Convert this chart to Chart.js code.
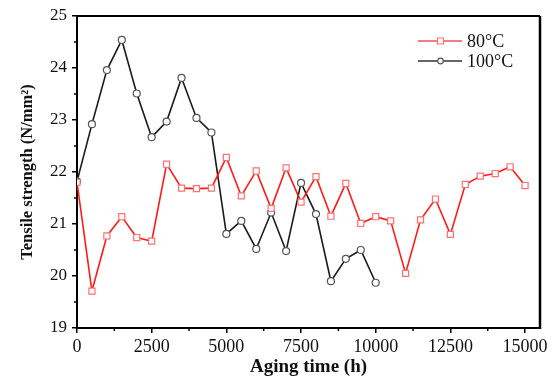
<!DOCTYPE html>
<html lang="en">
<head>
<meta charset="UTF-8">
<title>Tensile strength vs aging time</title>
<script src="https://cdn.jsdelivr.net/npm/chart.js"></script>
<style>
  html, body { margin: 0; padding: 0; background: #fff; overflow: hidden; }
  .wrap { position: relative; width: 560px; height: 383px; }
</style>
</head>
<body>
<div class="wrap"><canvas id="c" width="560" height="383"></canvas></div>
<script>
// aging time (h)
const hours80 = [0,500,1000,1500,2000,2500,3000,3500,4000,4500,5000,5500,6000,6500,7000,7500,8000,8500,9000,9500,10000,10500,11000,11500,12000,12500,13000,13500,14000,14500,15000];
const strength80 = [21.8,19.71,20.77,21.14,20.74,20.67,22.15,21.69,21.68,21.69,22.28,21.54,22.02,21.3,22.08,21.42,21.91,21.15,21.78,21.01,21.14,21.06,20.05,21.08,21.48,20.8,21.76,21.92,21.97,22.1,21.74];
const hours100 = [0,500,1000,1500,2000,2500,3000,3500,4000,4500,5000,5500,6000,6500,7000,7500,8000,8500,9000,9500,10000];
const strength100 = [21.82,22.92,23.96,24.54,23.51,22.67,22.97,23.81,23.04,22.76,20.81,21.06,20.52,21.22,20.48,21.79,21.19,19.9,20.33,20.5,19.87];

const xTicks = [0,2500,5000,7500,10000,12500,15000];
const xMinor = [1250,3750,6250,8750,11250,13750];
const yTicks = [19,20,21,22,23,24,25];
const yMinor = [19.5,20.5,21.5,22.5,23.5,24.5];

const seriesNames = ['80°C', '100°C'];
const xTitle = 'Aging time (h)';
const yTitle = 'Tensile strength (N/mm²)';

const FONT = "'Liberation Serif', 'Times New Roman', serif";
const RED = '#ff1a1a';
const RED_PT = '#ff7070';
const BLK = '#1a1a1a';
const BLK_PT = '#555555';

const pts = (xs, ys) => xs.map((x, i) => ({ x: x, y: ys[i] }));

// frame, minor ticks, titles and the line+marker legend
const decor = {
  id: 'decor',
  afterDraw(chart) {
    const ctx = chart.ctx;
    const a = chart.chartArea;
    const xs = chart.scales.x, ys = chart.scales.y;
    ctx.save();
    ctx.strokeStyle = '#000';
    // top and right frame lines
    ctx.lineWidth = 2;
    ctx.beginPath();
    ctx.moveTo(a.left, a.top); ctx.lineTo(a.right, a.top);
    ctx.stroke();
    ctx.lineWidth = 2.5;
    ctx.beginPath();
    ctx.moveTo(a.right, a.top); ctx.lineTo(a.right, a.bottom + 1);
    ctx.stroke();
    // minor ticks
    ctx.lineWidth = 1.5;
    ctx.beginPath();
    xMinor.forEach(v => {
      const p = xs.getPixelForValue(v);
      ctx.moveTo(p, a.bottom); ctx.lineTo(p, a.bottom + 3);
    });
    yMinor.forEach(v => {
      const p = ys.getPixelForValue(v);
      ctx.moveTo(a.left, p); ctx.lineTo(a.left - 3, p);
    });
    ctx.stroke();

    // axis titles
    ctx.fillStyle = '#111';
    ctx.textAlign = 'center';
    ctx.textBaseline = 'middle';
    ctx.font = 'bold 19px ' + FONT;
    ctx.fillText(xTitle, (a.left + a.right) / 2, 367);
    ctx.save();
    ctx.translate(28, (a.top + a.bottom) / 2);
    ctx.rotate(-Math.PI / 2);
    ctx.font = 'bold 16.5px ' + FONT;
    ctx.fillText(yTitle, 0, 0);
    ctx.restore();

    // legend
    const rows = [
      { name: seriesNames[0], line: '#ff5050', pt: RED_PT, style: 'rect', y: 41 },
      { name: seriesNames[1], line: '#333', pt: BLK_PT, style: 'circle', y: 61 }
    ];
    rows.forEach(r => {
      ctx.strokeStyle = r.line;
      ctx.lineWidth = 1.5;
      ctx.beginPath();
      ctx.moveTo(418, r.y); ctx.lineTo(462, r.y);
      ctx.stroke();
      ctx.fillStyle = '#fff';
      ctx.strokeStyle = r.pt;
      ctx.lineWidth = 1.2;
      ctx.beginPath();
      if (r.style === 'rect') ctx.rect(437.5, r.y - 3, 6, 6);
      else ctx.arc(440.5, r.y, 2.8, 0, Math.PI * 2);
      ctx.fill(); ctx.stroke();
      ctx.fillStyle = '#111';
      ctx.font = '18px ' + FONT;
      ctx.textAlign = 'left';
      ctx.fillText(r.name, 467, r.y + 1);
    });
    ctx.restore();
  }
};

new Chart(document.getElementById('c'), {
  type: 'scatter',
  data: {
    datasets: [
      {
        label: seriesNames[0],
        data: pts(hours80, strength80),
        showLine: true,
        borderColor: RED,
        borderWidth: 1.6,
        pointStyle: 'rect',
        pointRadius: 4.3,
        pointBorderWidth: 1.2,
        pointBorderColor: RED_PT,
        pointBackgroundColor: '#fff'
      },
      {
        label: seriesNames[1],
        data: pts(hours100, strength100),
        showLine: true,
        borderColor: BLK,
        borderWidth: 1.6,
        pointStyle: 'circle',
        pointRadius: 3.5,
        pointBorderWidth: 1.2,
        pointBorderColor: BLK_PT,
        pointBackgroundColor: '#fff'
      }
    ]
  },
  options: {
    responsive: false,
    animation: false,
    devicePixelRatio: 1,
    layout: { padding: { top: 16, right: 20, left: 0, bottom: 0 } },
    plugins: { legend: { display: false }, tooltip: { enabled: false } },
    scales: {
      x: {
        type: 'linear',
        min: 0,
        max: 15500,
        afterBuildTicks: s => { s.ticks = xTicks.map(v => ({ value: v })); },
        afterFit: s => { s.height = 55; },
        grid: { display: true, drawOnChartArea: false, drawTicks: true, tickLength: 5, color: '#000', lineWidth: 1.5 },
        border: { display: true, color: '#000', width: 2 },
        ticks: { color: '#111', font: { family: FONT, size: 18 }, padding: 3, maxRotation: 0, callback: v => String(v) }
      },
      y: {
        min: 19,
        max: 25,
        afterBuildTicks: s => { s.ticks = yTicks.map(v => ({ value: v })); },
        afterFit: s => { s.width = 77; },
        grid: { display: true, drawOnChartArea: false, drawTicks: true, tickLength: 5, color: '#000', lineWidth: 1.5 },
        border: { display: true, color: '#000', width: 2 },
        ticks: { color: '#111', font: { family: FONT, size: 17 }, padding: 5 }
      }
    }
  },
  plugins: [decor]
});
</script>
</body>
</html>
